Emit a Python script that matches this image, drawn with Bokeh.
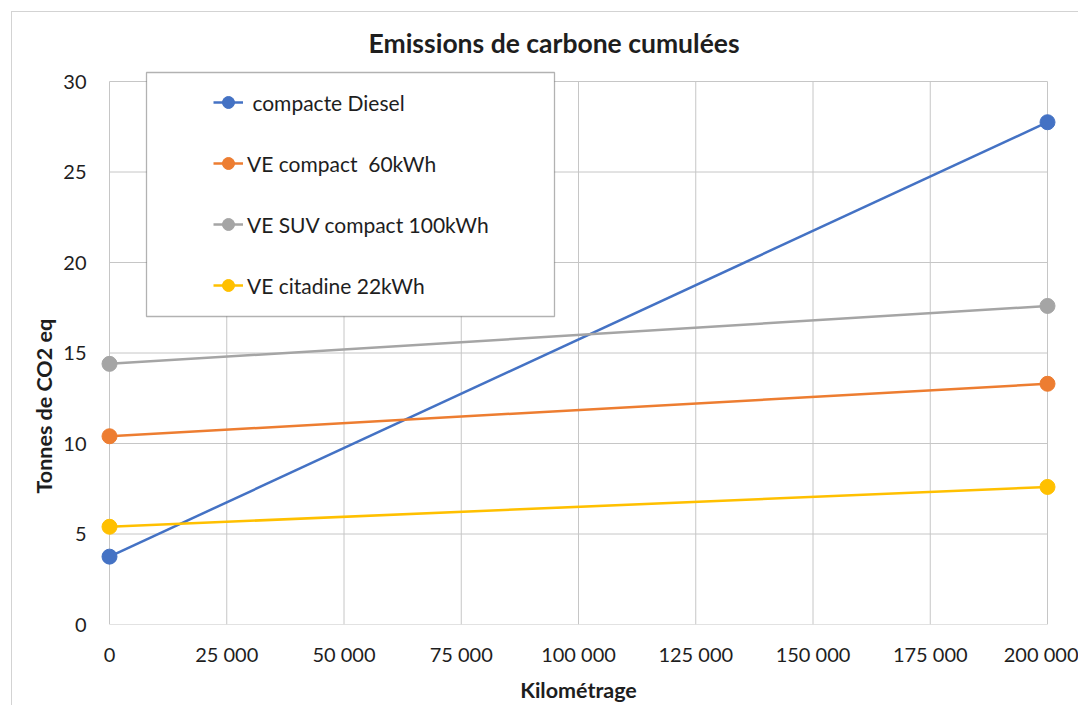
from bokeh.plotting import figure
from bokeh.models import Range1d, FixedTicker, Legend, LegendItem, BoxAnnotation, Title
from bokeh.embed import file_html
from bokeh.resources import INLINE

# ---------------- data ----------------
km = [0, 200000]
diesel = [3.75, 27.75]
ve_compact_60 = [10.4, 13.3]
ve_suv_100 = [14.4, 17.6]
ve_citadine_22 = [5.4, 7.6]

series_names = [" compacte Diesel", "VE compact  60kWh", "VE SUV compact 100kWh", "VE citadine 22kWh"]
series_values = [diesel, ve_compact_60, ve_suv_100, ve_citadine_22]
series_colors = ["#4472C4", "#ED7D31", "#A5A5A5", "#FFC000"]

x_ticks = [0, 25000, 50000, 75000, 100000, 125000, 150000, 175000, 200000]
x_tick_labels = ["0", "25 000", "50 000", "75 000", "100 000", "125 000", "150 000", "175 000", "200 000"]
y_ticks = [0, 5, 10, 15, 20, 25, 30]

title_text = "Emissions de carbone cumulées"
x_title = "Kilométrage"
y_title = "Tonnes de CO2 eq"

# ---------------- layout ----------------
FONT = "Lato"
TEXT = "#1e1e1e"
GRID = "#c6c6c6"
XMIN, XMAX = min(x_ticks), max(x_ticks)
YMIN, YMAX = min(y_ticks), max(y_ticks)
DATA_W_PX = 938
DATA_H_PX = 543
PAD_PX = 10      # room for end markers left/right
TOP_PAD_PX = 12  # room for legend box above the top grid line
pad = PAD_PX / DATA_W_PX * (XMAX - XMIN)
px_x = (XMAX - XMIN) / DATA_W_PX
px_y = (YMAX - YMIN) / DATA_H_PX

p = figure(
    width=1066, height=692,
    frame_width=DATA_W_PX + 2 * PAD_PX, frame_height=DATA_H_PX + TOP_PAD_PX,
    min_border_left=87, min_border_right=21, min_border_top=57, min_border_bottom=80,
    x_range=Range1d(XMIN - pad, XMAX + pad), y_range=Range1d(YMIN, YMAX + TOP_PAD_PX * px_y),
    output_backend="svg", toolbar_location=None,
)
p.styles = {"margin-left": "11px", "margin-top": "11px",
            "border-left": "1px solid #d3d3d3", "border-top": "1px solid #d3d3d3"}
p.outline_line_color = None
p.xgrid.visible = False
p.ygrid.visible = False
p.background_fill_color = "white"
p.border_fill_color = "white"

# title
p.title.text = title_text
p.title.align = "left"
p.title.offset = 269
p.title.standoff = 21
p.title.text_font = FONT
p.title.text_font_size = "26.5px"
p.title.text_font_style = "bold"
p.title.text_color = TEXT

# y title (placed along the left side, not centred on the frame)
p.add_layout(Title(text=y_title, align="left", offset=131, standoff=7,
                   text_font=FONT, text_font_size="21.5px", text_font_style="bold",
                   text_color=TEXT), "left")

# grid lines
p.segment(x0=x_ticks, y0=[YMIN] * len(x_ticks), x1=x_ticks, y1=[YMAX] * len(x_ticks),
          line_color=GRID, line_width=1)
p.segment(x0=[XMIN] * len(y_ticks), y0=y_ticks, x1=[XMAX] * len(y_ticks), y1=y_ticks,
          line_color=GRID, line_width=1)

# axes
for ax in (p.xaxis[0], p.yaxis[0]):
    ax.axis_line_color = None
    ax.major_tick_line_color = None
    ax.minor_tick_line_color = None
    ax.major_label_text_font = FONT
    ax.major_label_text_font_size = "20px"
    ax.major_label_text_color = TEXT
p.xaxis[0].ticker = FixedTicker(ticks=x_ticks)
p.xaxis[0].major_label_overrides = {t: l for t, l in zip(x_ticks, x_tick_labels)}
p.xaxis[0].major_label_standoff = 11
p.xaxis[0].axis_label = x_title
p.xaxis[0].axis_label_standoff = 8
p.xaxis[0].axis_label_text_font = FONT
p.xaxis[0].axis_label_text_font_size = "21.5px"
p.xaxis[0].axis_label_text_font_style = "bold"
p.xaxis[0].axis_label_text_color = TEXT
p.yaxis[0].ticker = FixedTicker(ticks=y_ticks)
p.yaxis[0].major_label_standoff = 7

# series
items = []
for name, vals, col in zip(series_names, series_values, series_colors):
    lr = p.line(km, vals, line_color=col, line_width=2.5)
    sr = p.scatter(km, vals, size=15, fill_color=col, line_color=col)
    items.append(LegendItem(label=name, renderers=[lr, sr]))

# legend box
box = BoxAnnotation(left=(146 - 109) * px_x, right=(554 - 109) * px_x,
                    bottom=(624 - 316) * px_y, top=(624 - 72) * px_y,
                    fill_color="white", fill_alpha=1.0, line_color="black", line_width=1.3)
p.add_layout(box)

legend = Legend(items=items, location=(114, 324), padding=0, margin=0,
                border_line_color=None, background_fill_alpha=0,
                glyph_width=30, glyph_height=30, label_height=30, spacing=31,
                label_standoff=4, label_text_font=FONT, label_text_font_size="21px",
                label_text_color=TEXT)
p.add_layout(legend)

open("out.html", "w").write(file_html(p, INLINE))
